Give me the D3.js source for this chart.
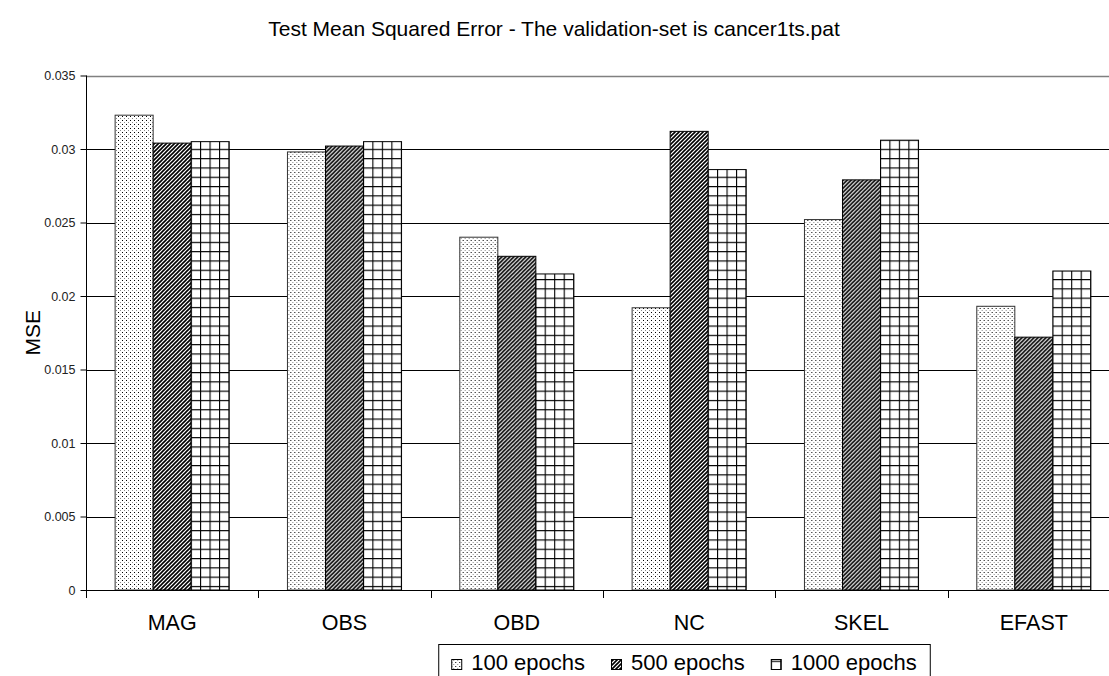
<!DOCTYPE html>
<html>
<head>
<meta charset="utf-8">
<script src="https://cdn.jsdelivr.net/npm/d3@7"></script>
<style>
  html, body { margin: 0; padding: 0; background: #fff; }
  svg { display: block; font-family: Arial, "Liberation Sans", sans-serif; }
</style>
</head>
<body>
<svg id="chart" width="1109" height="676"></svg>
<script>
// Pruning methods along the x axis
const categories = ["MAG", "OBS", "OBD", "NC", "SKEL", "EFAST"];
// Training lengths (one bar per method each)
const seriesNames = ["100 epochs", "500 epochs", "1000 epochs"];
// Test MSE per method, for each training length
const mse100  = [0.0323, 0.0298, 0.0240, 0.0192, 0.0252, 0.0193];
const mse500  = [0.0304, 0.0302, 0.0227, 0.0312, 0.0279, 0.0172];
const mse1000 = [0.0305, 0.0305, 0.0215, 0.0286, 0.0306, 0.0217];
const yTicks = [0, 0.005, 0.01, 0.015, 0.02, 0.025, 0.03, 0.035];
const yTickLabels = ["0", "0.005", "0.01", "0.015", "0.02", "0.025", "0.03", "0.035"];

const seriesValues = [mse100, mse500, mse1000];
const rows = categories.map((c, i) => ({
  cat: c,
  vals: seriesNames.map((s, j) => ({ key: s, idx: j, value: seriesValues[j][i] }))
}));

const svg = d3.select("#chart");
const plot = { left: 86, right: 1120, top: 75.5, bottom: 590 };

// Fill patterns for the three series
const defs = svg.append("defs");
const pDots = defs.append("pattern").attr("id", "pat0")
  .attr("patternUnits", "userSpaceOnUse").attr("width", 4).attr("height", 4);
pDots.append("rect").attr("width", 4).attr("height", 4).attr("fill", "#fff");
pDots.append("rect").attr("x", 0).attr("y", 0).attr("width", 1).attr("height", 1).attr("fill", "#000");
pDots.append("rect").attr("x", 2).attr("y", 2).attr("width", 1).attr("height", 1).attr("fill", "#8a8a8a");

const pDiag = defs.append("pattern").attr("id", "pat1")
  .attr("patternUnits", "userSpaceOnUse").attr("width", 4).attr("height", 4);
pDiag.append("rect").attr("width", 4).attr("height", 4).attr("fill", "#fff");
pDiag.append("path").attr("d", "M-1,1 L1,-1 M0,4 L4,0 M3,5 L5,3")
  .attr("stroke", "#000").attr("stroke-width", 1.6);

const pGrid = defs.append("pattern").attr("id", "pat2")
  .attr("patternUnits", "userSpaceOnUse").attr("width", 9.5).attr("height", 9.3);
pGrid.append("rect").attr("width", 9.5).attr("height", 9.3).attr("fill", "#fff");
pGrid.append("path").attr("d", "M0.5,0 V9.3 M0,0.5 H9.5")
  .attr("stroke", "#000").attr("stroke-width", 1.2);

const fills = ["url(#pat0)", "url(#pat1)", "url(#pat2)"];

// Scales
const x0 = d3.scaleBand().domain(categories).range([plot.left, plot.right]).padding(0);
const gap = x0.bandwidth() * 0.169;
const x1 = d3.scaleBand().domain(seriesNames).range([gap, x0.bandwidth() - gap]).padding(0);
const y = d3.scaleLinear().domain([0, 0.035]).range([plot.bottom, plot.top]);

// Title
svg.append("text")
  .attr("x", 554).attr("y", 36)
  .attr("text-anchor", "middle")
  .attr("font-size", 21)
  .attr("fill", "#000")
  .text("Test Mean Squared Error - The validation-set is cancer1ts.pat");

// Horizontal gridlines
svg.append("g").selectAll("line")
  .data(yTicks.filter(t => t > 0))
  .join("line")
  .attr("x1", plot.left).attr("x2", 1109)
  .attr("y1", d => Math.round(y(d)) + 0.5).attr("y2", d => Math.round(y(d)) + 0.5)
  .attr("stroke", d => d === 0.035 ? "#808080" : "#000")
  .attr("stroke-width", d => d === 0.035 ? 1.5 : 1);

// Bars
const groups = svg.append("g").selectAll("g")
  .data(rows)
  .join("g")
  .attr("transform", d => `translate(${x0(d.cat)},0)`);

groups.selectAll("rect")
  .data(d => d.vals)
  .join("rect")
  .attr("x", d => x1(d.key))
  .attr("y", d => y(d.value))
  .attr("width", x1.bandwidth())
  .attr("height", d => y(0) - y(d.value))
  .attr("fill", d => fills[d.idx])
  .attr("stroke", d => d.idx === 0 ? "#333" : "#000")
  .attr("stroke-width", 1);

// Y axis
const yAxis = d3.axisLeft(y)
  .tickValues(yTicks)
  .tickFormat((d, i) => yTickLabels[i])
  .tickSize(6)
  .tickPadding(5);
const gy = svg.append("g")
  .attr("transform", `translate(${plot.left + 0.5},0)`)
  .call(yAxis);
gy.select(".domain").remove();
gy.append("line").attr("x1", 0).attr("x2", 0)
  .attr("y1", plot.top).attr("y2", plot.bottom + 8)
  .attr("stroke", "#000");
gy.selectAll(".tick line").attr("stroke", "#000");
gy.selectAll(".tick text")
  .attr("font-size", 12.5)
  .attr("font-family", "Arial, 'Liberation Sans', sans-serif")
  .attr("fill", "#222");

// X axis baseline and category boundary ticks
svg.append("line")
  .attr("x1", plot.left).attr("x2", 1109)
  .attr("y1", plot.bottom + 0.5).attr("y2", plot.bottom + 0.5)
  .attr("stroke", "#000");
const bounds = categories.map(c => x0(c)).concat([plot.right]);
svg.append("g").selectAll("line")
  .data(bounds)
  .join("line")
  .attr("x1", d => Math.round(d) + 0.5).attr("x2", d => Math.round(d) + 0.5)
  .attr("y1", plot.bottom).attr("y2", plot.bottom + 8)
  .attr("stroke", "#000");

// Category labels
svg.append("g").selectAll("text")
  .data(categories)
  .join("text")
  .attr("x", d => x0(d) + x0.bandwidth() / 2)
  .attr("y", 630)
  .attr("text-anchor", "middle")
  .attr("font-size", 21.5)
  .attr("fill", "#000")
  .text(d => d);

// Y axis title
svg.append("text")
  .attr("transform", `translate(40,${(plot.top + plot.bottom) / 2}) rotate(-90)`)
  .attr("text-anchor", "middle")
  .attr("font-size", 21)
  .attr("fill", "#000")
  .text("MSE");

// Legend
const legend = svg.append("g");
const box = legend.append("rect")
  .attr("fill", "#fff").attr("stroke", "#000").attr("stroke-width", 1);
let cx = 0;
seriesNames.forEach((name, i) => {
  const g = legend.append("g").attr("transform", `translate(${cx},0)`);
  g.append("rect").attr("x", 0.5).attr("y", -10.5).attr("width", 10).attr("height", 10)
    .attr("fill", fills[i]).attr("stroke", "#000").attr("stroke-width", 1);
  const t = g.append("text").attr("x", 20).attr("y", 0)
    .attr("font-size", 22).attr("fill", "#000").text(name);
  const w = t.node().getComputedTextLength();
  cx += 20 + w + 26;
});
const contentW = cx - 26;
const padX = 13;
const boxW = contentW + padX * 2;
const boxX = 684 - boxW / 2;
legend.attr("transform", `translate(${boxX + padX},670)`);
box.attr("x", -padX + 0.5).attr("y", -25.5).attr("width", boxW).attr("height", 50);
</script>
</body>
</html>
